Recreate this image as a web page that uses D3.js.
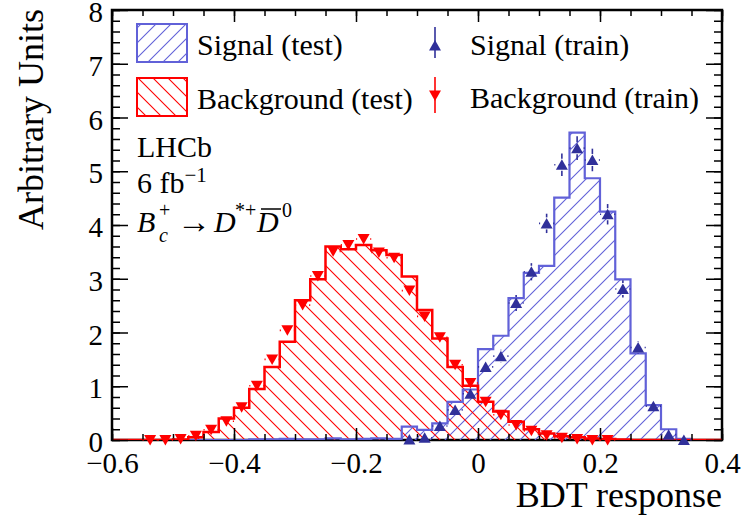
<!DOCTYPE html>
<html>
<head>
<meta charset="utf-8">
<script src="https://cdn.jsdelivr.net/npm/d3@7"></script>
<style>
  body { margin: 0; background: #fff; }
  svg text { font-family: "Liberation Serif", "Times New Roman", serif; }
</style>
</head>
<body>
<svg width="745" height="520" font-family="Liberation Serif, Times New Roman, serif"></svg>
<script>
// 40 bins of 0.025 between -0.6 and 0.4
let binLow = d3.range(40).map(i => -0.6 + i * 0.025);
let binWidth = 0.025;

// histograms (test samples)
let sigTest = [0, 0, 0, 0, 0, 0, 0, 0, 0, 0.01,
  0.01, 0.02, 0.01, 0.01, 0.03, 0.01, 0.02, 0.03, 0.02, 0.25,
  0.19, 0.31, 0.71, 0.94, 1.69, 1.94, 2.64, 3.11, 3.24, 4.51,
  5.72, 4.87, 4.25, 2.99, 1.61, 0.65, 0.20, 0.02, 0, 0];
let bkgTest = [0, 0, 0, 0, 0.01, 0.05, 0.15, 0.40, 0.60, 0.95,
  1.36, 1.83, 2.60, 2.99, 3.60, 3.55, 3.63, 3.53, 3.44, 3.04,
  2.42, 1.89, 1.36, 1.01, 0.71, 0.53, 0.34, 0.20, 0.12, 0.07,
  0.05, 0.03, 0.02, 0.01, 0, 0, 0, 0, 0, 0];

// training samples (points), null = empty bin
let sigTrain = [null, null, null, null, null, null, null, null, null, null,
  null, null, null, null, null, null, null, null, null, 0.01,
  0.04, 0.26, 0.56, 0.86, 1.36, 1.56, 2.55, 3.13, 4.03, 5.12,
  5.43, 5.21, 4.20, 2.81, 1.72, 0.63, 0.10, 0.0, null, null];
let sigTrainErr = [0, 0, 0, 0, 0, 0, 0, 0, 0, 0,
  0, 0, 0, 0, 0, 0, 0, 0, 0, 0.02,
  0.03, 0.06, 0.08, 0.09, 0.11, 0.12, 0.15, 0.16, 0.18, 0.21,
  0.22, 0.21, 0.19, 0.16, 0.12, 0.08, 0.03, 0.01, 0, 0];
let bkgTrain = [null, null, 0.0, 0.0, 0.02, 0.08, 0.19, 0.35, 0.61, 1.01,
  1.50, 2.04, 2.51, 3.05, 3.51, 3.63, 3.74, 3.49, 3.39, 2.78,
  2.30, 1.91, 1.40, 1.06, 0.71, 0.47, 0.28, 0.17, 0.09, 0.04,
  0.02, 0.0, 0.0, null, null, null, null, null, null, null];
let bkgTrainErr = [0, 0, 0, 0, 0.01, 0.02, 0.03, 0.04, 0.05, 0.06,
  0.07, 0.08, 0.09, 0.10, 0.10, 0.10, 0.10, 0.10, 0.10, 0.09,
  0.08, 0.08, 0.07, 0.06, 0.05, 0.04, 0.03, 0.03, 0.02, 0.01,
  0.01, 0, 0, 0, 0, 0, 0, 0, 0, 0];

let xMajor = [-0.6, -0.4, -0.2, 0, 0.2, 0.4];
let yMajor = [0, 1, 2, 3, 4, 5, 6, 7, 8];

let sigLine = "#6161d8", sigMark = "#30309a", bkgLine = "#ff0000";
let serif = "Liberation Serif";

let svg = d3.select("svg");
let x = d3.scaleLinear().domain([-0.6, 0.4]).range([112, 722]);
let y = d3.scaleLinear().domain([0, 8]).range([440, 10]);

let defs = svg.append("defs");
defs.append("clipPath").attr("id", "plot")
  .append("rect").attr("x", 112).attr("y", 10).attr("width", 610).attr("height", 430);

function hatch(id, color, dir) {
  let p = defs.append("pattern").attr("id", id)
    .attr("patternUnits", "userSpaceOnUse")
    .attr("width", 15).attr("height", 15);
  let d = dir > 0
    ? "M0,15L15,0M-2,2L2,-2M13,17L17,13"
    : "M0,0L15,15M-2,13L2,17M13,-2L17,2";
  p.append("path").attr("d", d).attr("stroke", color).attr("stroke-width", 1.1).attr("fill", "none");
}
hatch("hSig", sigLine, 1);
hatch("hBkg", bkgLine, -1);

// step outline of a histogram
function steps(vals) {
  let pts = [[x(binLow[0]), y(0)]];
  vals.forEach((v, i) => {
    pts.push([x(binLow[i]), y(v)]);
    pts.push([x(binLow[i] + binWidth), y(v)]);
  });
  pts.push([x(binLow[vals.length - 1] + binWidth), y(0)]);
  return d3.line()(pts);
}

// frame
svg.append("rect").attr("x", 112).attr("y", 10).attr("width", 610).attr("height", 430)
  .attr("fill", "none").attr("stroke", "#000").attr("stroke-width", 2.5);

let plot = svg.append("g").attr("clip-path", "url(#plot)");
plot.append("path").attr("d", steps(sigTest)).attr("fill", "url(#hSig)");
plot.append("path").attr("d", steps(bkgTest)).attr("fill", "url(#hBkg)");
plot.append("path").attr("d", steps(sigTest)).attr("fill", "none")
  .attr("stroke", sigLine).attr("stroke-width", 2.2);
plot.append("path").attr("d", steps(bkgTest)).attr("fill", "none")
  .attr("stroke", bkgLine).attr("stroke-width", 2.5);

// axes, ticks inside and mirrored
let fmt = d => d === 0 ? "0" : d3.format(".1f")(d);
let minorX = d3.range(-0.6, 0.401, 0.05);
let minorY = d3.range(0, 8.01, 0.2);

function styleAxis(g) {
  g.attr("font-family", serif);
  g.select(".domain").remove();
  g.selectAll("line").attr("stroke", "#000").attr("stroke-width", 1.5);
  g.selectAll("text").attr("font-size", 29).attr("fill", "#000")
    .attr("font-family", serif);
}

svg.append("g").attr("transform", "translate(0,440)")
  .call(d3.axisBottom(x).tickValues(xMajor).tickSize(-12).tickPadding(12).tickFormat(fmt))
  .call(styleAxis);
svg.append("g").attr("transform", "translate(0,440)")
  .call(d3.axisBottom(x).tickValues(minorX).tickSize(-6).tickFormat(""))
  .call(styleAxis);
svg.append("g").attr("transform", "translate(0,10)")
  .call(d3.axisTop(x).tickValues(xMajor).tickSize(-12).tickFormat(""))
  .call(styleAxis);
svg.append("g").attr("transform", "translate(0,10)")
  .call(d3.axisTop(x).tickValues(minorX).tickSize(-6).tickFormat(""))
  .call(styleAxis);

svg.append("g").attr("transform", "translate(112,0)")
  .call(d3.axisLeft(y).tickValues(yMajor).tickSize(-16).tickPadding(9).tickFormat(d3.format("d")))
  .call(styleAxis)
  .call(g => g.selectAll("text").attr("dy", "0.4em"));
svg.append("g").attr("transform", "translate(112,0)")
  .call(d3.axisLeft(y).tickValues(minorY).tickSize(-8).tickFormat(""))
  .call(styleAxis);
svg.append("g").attr("transform", "translate(722,0)")
  .call(d3.axisRight(y).tickValues(yMajor).tickSize(-16).tickFormat(""))
  .call(styleAxis);
svg.append("g").attr("transform", "translate(722,0)")
  .call(d3.axisRight(y).tickValues(minorY).tickSize(-8).tickFormat(""))
  .call(styleAxis);

// axis titles
svg.append("text").attr("x", 722).attr("y", 507).attr("text-anchor", "end")
  .attr("font-family", serif).attr("font-size", 36).text("BDT response");
svg.append("text").attr("transform", "translate(43,9) rotate(-90)")
  .attr("font-family", serif).attr("text-anchor", "end").attr("font-size", 36).text("Arbitrary Units");

// training points with error bars
let triUp = "M0,-5.5L6,5L-6,5Z";
let triDown = "M0,5.5L6,-5L-6,-5Z";

function points(vals, errs, color, shape) {
  let data = vals.map((v, i) => ({ v, e: errs[i], lo: binLow[i], c: binLow[i] + binWidth / 2 }))
    .filter(d => d.v !== null);
  let g = svg.append("g");
  data.forEach(d => {
    let cx = x(d.c), cy = y(d.v);
    let segs = [];
    if (y(d.v + d.e) < cy - 6) segs.push([cx, y(d.v + d.e), cx, cy - 6]);
    if (y(d.v - d.e) > cy + 6) segs.push([cx, cy + 6, cx, y(d.v - d.e)]);
    segs.push([x(d.lo), cy, cx - 6.5, cy]);
    segs.push([cx + 6.5, cy, x(d.lo + binWidth), cy]);
    segs.forEach(s => g.append("line")
      .attr("x1", s[0]).attr("y1", s[1]).attr("x2", s[2]).attr("y2", s[3])
      .attr("stroke", color).attr("stroke-width", 1.6));
  });
  g.selectAll("path").data(data).enter().append("path")
    .attr("d", shape)
    .attr("transform", d => `translate(${x(d.c)},${y(d.v)})`)
    .attr("fill", color);
}
points(bkgTrain, bkgTrainErr, bkgLine, triDown);
points(sigTrain, sigTrainErr, sigMark, triUp);

// legend
let leg = svg.append("g").attr("font-family", serif);
leg.append("rect").attr("x", 137).attr("y", 24).attr("width", 50).attr("height", 38)
  .attr("fill", "url(#hSig)").attr("stroke", sigLine).attr("stroke-width", 2);
leg.append("rect").attr("x", 137).attr("y", 78).attr("width", 50).attr("height", 38)
  .attr("fill", "url(#hBkg)").attr("stroke", bkgLine).attr("stroke-width", 2);
leg.append("text").attr("x", 197).attr("y", 55).attr("font-size", 30).text("Signal (test)");
leg.append("text").attr("x", 197).attr("y", 109).attr("font-size", 30).text("Background (test)");

leg.append("line").attr("x1", 435).attr("x2", 435).attr("y1", 27).attr("y2", 58)
  .attr("stroke", sigMark).attr("stroke-width", 1.6);
leg.append("path").attr("d", triUp).attr("transform", "translate(435,45.5)").attr("fill", sigMark);
leg.append("line").attr("x1", 435).attr("x2", 435).attr("y1", 77).attr("y2", 113)
  .attr("stroke", bkgLine).attr("stroke-width", 1.6);
leg.append("path").attr("d", triDown).attr("transform", "translate(435,95.5)").attr("fill", bkgLine);
leg.append("text").attr("x", 470).attr("y", 55).attr("font-size", 30).text("Signal (train)");
leg.append("text").attr("x", 470).attr("y", 108).attr("font-size", 30).text("Background (train)");

// LHCb label
let lab = svg.append("g").attr("font-family", serif);
lab.append("text").attr("x", 137).attr("y", 157).attr("font-size", 30).text("LHCb");
let t2 = lab.append("text").attr("x", 137).attr("y", 193).attr("font-size", 30);
t2.append("tspan").text("6 fb");
t2.append("tspan").attr("font-size", 21).attr("dy", -11).text("\u22121");

lab.append("text").attr("x", 137).attr("y", 232).attr("font-size", 30)
  .attr("font-style", "italic").text("B");
lab.append("text").attr("x", 159).attr("y", 217).attr("font-size", 20).text("+");
lab.append("text").attr("x", 159).attr("y", 242).attr("font-size", 20)
  .attr("font-style", "italic").text("c");
lab.append("text").attr("x", 177).attr("y", 233).attr("font-size", 34)
  .attr("font-family", "DejaVu Serif").text("\u2192");
lab.append("text").attr("x", 214).attr("y", 232).attr("font-size", 30)
  .attr("font-style", "italic").text("D");
lab.append("text").attr("x", 235).attr("y", 217).attr("font-size", 20).text("*+");
lab.append("text").attr("x", 257).attr("y", 232).attr("font-size", 30)
  .attr("font-style", "italic").text("D");
lab.append("line").attr("x1", 261).attr("x2", 281).attr("y1", 209).attr("y2", 209)
  .attr("stroke", "#000").attr("stroke-width", 1.5);
lab.append("text").attr("x", 282).attr("y", 217).attr("font-size", 20).text("0");
</script>
</body>
</html>
